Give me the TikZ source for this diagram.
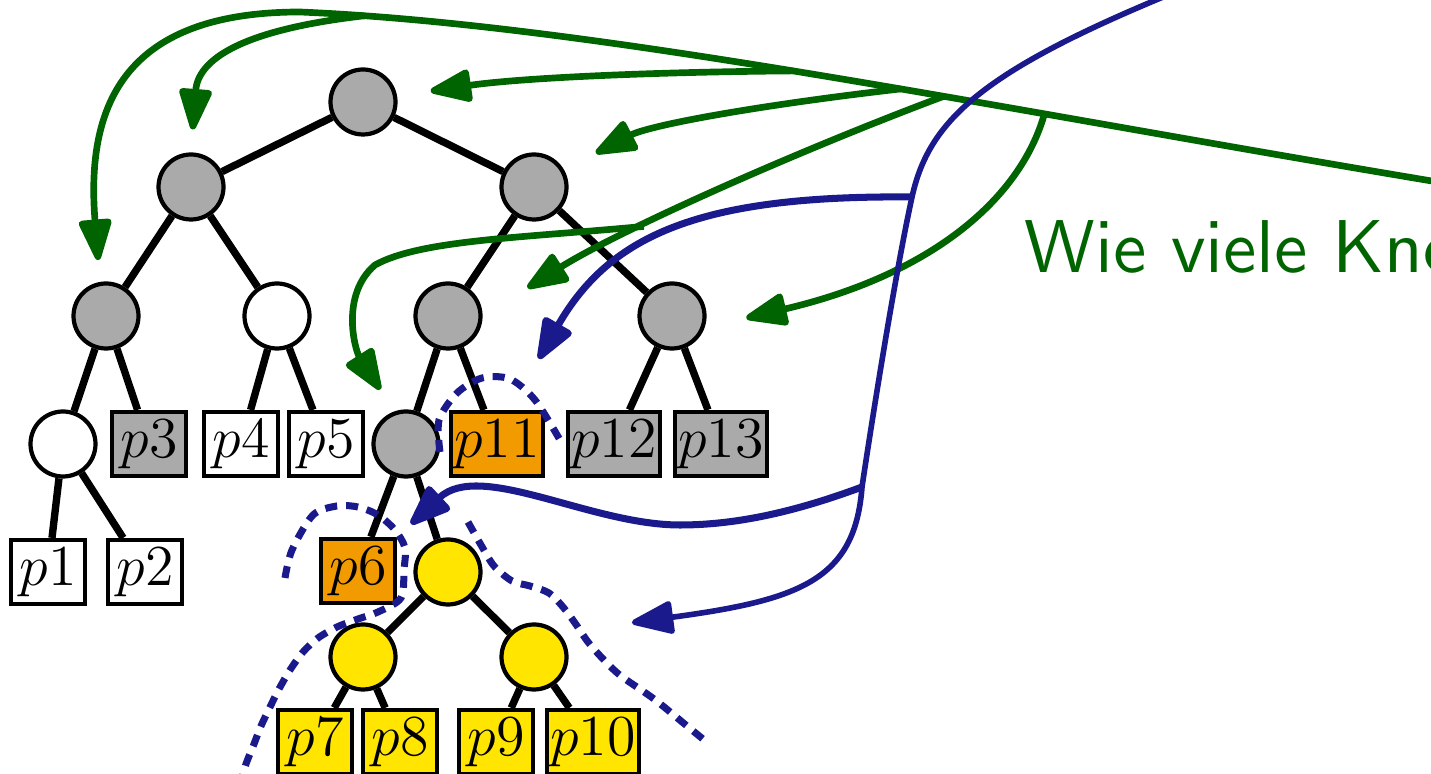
\RequirePackage{fix-cm}
\documentclass[tikz,border=0pt]{standalone}
\usepackage{tikz}
\usetikzlibrary{arrows.meta}
\usepackage{xcolor}
\definecolor{nodegrey}{HTML}{AAAAAA}
\definecolor{leaforange}{HTML}{F29B00}
\definecolor{subyellow}{HTML}{FFE500}
\definecolor{qgreen}{HTML}{006400}
\definecolor{qblue}{HTML}{1A1A8C}
\font\questionfont=cmss10 at 21.3pt
\tikzset{
  knot/.style={circle, draw, line width=1.2pt, fill=nodegrey,
               minimum size=6.5mm, inner sep=0pt},
  leafbox/.style={rectangle, draw, line width=1.2pt, fill=white,
                  minimum width=7.4mm, minimum height=6.4mm,
                  inner xsep=0.3mm, inner ysep=0pt,
                  font=\fontsize{16.5}{19}\selectfont},
  treeedge/.style={line width=2.1pt},
  garr/.style={-{Triangle[round,length=4.7mm,width=3.4mm]}, line width=1.9pt, draw=qgreen},
  barr/.style={-{Triangle[round,length=4.7mm,width=3.4mm]}, line width=2pt, draw=qblue},
  cutline/.style={draw=qblue, line width=2pt, dash pattern=on 1.2mm off 0.9mm},
}

\begin{document}
\begin{tikzpicture}[x=0.1mm, y=-0.1mm]
  \useasboundingbox (0,0) rectangle (1431,774);
  \clip (0,0) rectangle (1431,774);

  % tree
  \node[knot] (root) at (363,102) {};
  \node[knot] (l) at (191,187) {};
  \node[knot] (r) at (534,187) {};
  \node[knot] (ll) at (106,316) {};
  \node[knot, fill=white] (lr) at (277,316) {};
  \node[knot] (rl) at (448,316) {};
  \node[knot] (rr) at (672,316) {};
  \node[knot, fill=white] (lll) at (63,444) {};
  \node[leafbox, fill=nodegrey] (p3) at (149,444) {$p3$};
  \node[leafbox] (p4) at (241,444) {$p4$};
  \node[leafbox] (p5) at (326,444) {$p5$};
  \node[knot] (rll) at (406,444) {};
  \node[leafbox, fill=leaforange] (p11) at (497,444) {$p11$};
  \node[leafbox, fill=nodegrey] (p12) at (614,444) {$p12$};
  \node[leafbox, fill=nodegrey] (p13) at (721,444) {$p13$};
  \node[leafbox] (p1) at (48,572) {$p1$};
  \node[leafbox] (p2) at (145,572) {$p2$};
  \node[leafbox, fill=leaforange] (p6) at (358,571) {$p6$};
  \node[knot, fill=subyellow] (y) at (448,572) {};
  \node[knot, fill=subyellow] (yl) at (363,657) {};
  \node[knot, fill=subyellow] (yr) at (534,657) {};
  \node[leafbox, fill=subyellow] (p7) at (315,742) {$p7$};
  \node[leafbox, fill=subyellow] (p8) at (400,742) {$p8$};
  \node[leafbox, fill=subyellow] (p9) at (496,742) {$p9$};
  \node[leafbox, fill=subyellow] (p10) at (593,742) {$p10$};

  \foreach \a/\b in {root/l, root/r, l/ll, l/lr, r/rl, r/rr, ll/lll, ll/p3,
                     lr/p4, lr/p5, rl/rll, rl/p11, rr/p12, rr/p13, lll/p1,
                     lll/p2, rll/p6, rll/y, y/yl, y/yr, yl/p7, yl/p8, yr/p9, yr/p10}
    \draw[treeedge] (\a) -- (\b);

  % question
  \node[anchor=base west, inner sep=0pt, text=qgreen, font=\questionfont]
    (question) at (1024,273) {Wie viele Knoten};

  % green arrows
  \coordinate (gstart) at (1480,189);
  \draw[garr, shorten >=2.2mm] (gstart) .. controls (1000,110) and (600,25) ..
    coordinate[pos=0.32] (gj4) coordinate[pos=0.4] (gj3) coordinate[pos=0.435] (gj2)
    coordinate[pos=0.525] (gj1) coordinate[pos=0.93] (gj0) (300,12)
    .. controls (120,12) and (86,110) .. (ll.100);
  \draw[garr, shorten >=2.3mm] (gj0) .. controls (240,30) and (198,60) .. (l.north);
  \draw[garr, shorten >=3.4mm] (gj1) .. controls (650,72) and (520,78) .. (root.10);
  \draw[garr, shorten >=3.6mm] (gj2) .. controls (760,105) and (650,125) .. (r.30);
  \draw[garr, shorten >=5.3mm] (gj3) .. controls (800,150) and (620,230) ..
    coordinate[pos=0.64] (gj5) (rl.east);
  \draw[garr, shorten >=4.3mm] (gj4) .. controls (1020,200) and (930,275) .. (rr.-20);
  \draw[garr, shorten >=2.6mm] (gj5) .. controls (520,238) and (420,240) .. (375,265)
    .. controls (340,295) and (355,350) .. (rll.110);

  % blue arrows
  \coordinate (bstart) at (1210,-22);
  \draw[barr, line width=1.6pt, shorten >=7.4mm] (bstart) .. controls (990,65) and (930,115) ..
    (912,197) coordinate (bj1) .. controls (895,275) and (872,420) ..
    (862,487) coordinate (bj2) .. controls (855,580) and (800,600) .. (yr.north east);
  \draw[barr, shorten >=5.9mm] (bj1) .. controls (700,195) and (610,235) .. (p11.70);
  \draw[barr, shorten >=1.9mm] (bj2) .. controls (800,510) and (740,525) .. (680,525)
    .. controls (590,525) and (480,460) .. (p6.north east);

  % dashed borders
  \draw[cutline] plot[smooth] coordinates {(440,452) (439,420) (457,393) (482,378)
    (510,379) (535,400) (560,440)};
  \draw[cutline] plot[smooth] coordinates {(285,578) (292,550) (313,515) (337,506)
    (358,507) (378,515) (395,530) (405,548) (404,570) (401,598) (378,612) (358,619)
    (337,627) (318,638) (303,652) (290,670) (279,689) (270,707) (261,726) (254,744)
    (246,764) (240,785)};
  \draw[cutline] plot[smooth] coordinates {(468,522) (481,545) (494,566) (512,581)
    (530,586) (549,593) (563,607) (575,623) (588,642) (604,660) (621,676) (654,699)
    (687,726) (709,744)};
\end{tikzpicture}
\end{document}
